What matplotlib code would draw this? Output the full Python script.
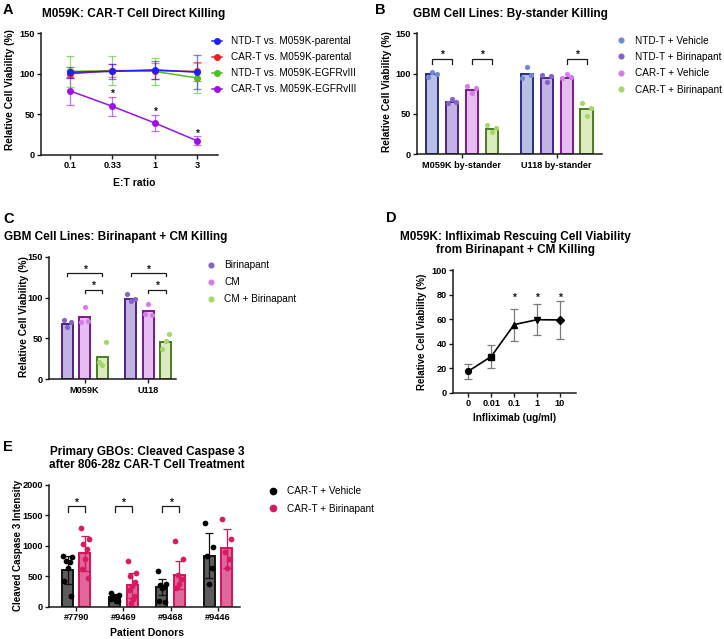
import numpy as np
import matplotlib
matplotlib.use('Agg')
import matplotlib.pyplot as plt
from matplotlib.lines import Line2D
from matplotlib.colors import to_rgba

# ---------------- data ----------------
# Panel A
a_title = 'M059K: CAR-T Cell Direct Killing'
a_ratios = ['0.1', '0.33', '1', '3']
a_labels = ['NTD-T vs. M059K-parental', 'CAR-T vs. M059K-parental',
            'NTD-T vs. M059K-EGFRvIII', 'CAR-T vs. M059K-EGFRvIII']
a_ntd_parental = [102, 103, 105, 102]
a_ntd_parental_err = [7, 9, 11, 21]
a_car_parental = [100, 104, 104, 103]
a_car_parental_err = [5, 8, 10, 12]
a_ntd_egfr = [103, 104, 103, 95]
a_ntd_egfr_err = [19, 18, 17, 19]
a_car_egfr = [79, 60, 39.5, 17.5]
a_car_egfr_err = [17, 12, 10, 5.5]
a_sig = [False, True, True, True]

# Panel B
b_title = 'GBM Cell Lines: By-stander Killing'
b_groups = ['M059K by-stander', 'U118 by-stander']
b_conditions = ['NTD-T + Vehicle', 'NTD-T + Birinapant', 'CAR-T + Vehicle', 'CAR-T + Birinapant']
b_means = [[99, 65, 80, 31], [99, 94, 95, 56]]
b_points = [
    [[96, 102, 100], [63, 68, 65], [85, 76, 82], [36, 28, 32]],
    [[94, 108, 98], [98, 90, 97], [95, 99.5, 96], [64, 47, 58]],
]
b_sig_pairs = [(0, 0, 1), (0, 2, 3), (1, 2, 3)]

# Panel C
c_title = 'GBM Cell Lines: Birinapant + CM Killing'
c_groups = ['M059K', 'U118']
c_conditions = ['Birinapant', 'CM', 'CM + Birinapant']
c_means = [[68, 76, 27.5], [98, 83, 46]]
c_points = [
    [[72.6, 64.4, 69.8], [70, 88.9, 71.4], [20.8, 17.5, 45.3]],
    [[104, 96.2, 98.3], [79.6, 91.8, 78.7], [36.7, 46.9, 55.4]],
]

# Panel D
d_title = 'M059K: Infliximab Rescuing Cell Viability\nfrom Birinapant + CM Killing'
d_doses = ['0', '0.01', '0.1', '1', '10']
d_vals = [17.5, 29.5, 55.5, 59.5, 59.3]
d_err = [6, 9, 13, 12.5, 15.5]
d_sig = [False, False, True, True, True]

# Panel E
e_title = 'Primary GBOs: Cleaved Caspase 3\nafter 806-28z CAR-T Cell Treatment'
e_donors = ['#7790', '#9469', '#9468', '#9446']
e_conditions = ['CAR-T + Vehicle', 'CAR-T + Birinapant']
e_veh_mean = [600, 160, 330, 840]
e_veh_sd = [230, 50, 130, 370]
e_bir_mean = [880, 350, 520, 960]
e_bir_sd = [290, 210, 230, 320]
e_veh_points = [[830, 810, 750, 740, 640, 420, 180],
                [230, 200, 180, 160, 140, 120, 100, 90],
                [580, 380, 350, 330, 310, 100, 70],
                [1380, 980, 830, 640, 370]]
e_bir_points = [[1300, 1110, 1030, 950, 790, 620, 470],
                [750, 550, 500, 400, 340, 280, 170, 120, 60],
                [1080, 780, 520, 450, 380, 300],
                [1440, 1110, 900, 780, 630]]
e_sig = [True, True, True, False]

# ---------------- figure ----------------
W, H, DPI = 724, 639, 100
plt.rcParams['font.family'] = ['Liberation Sans', 'DejaVu Sans']
fig = plt.figure(figsize=(W / DPI, H / DPI), dpi=DPI)
fig.patch.set_facecolor('white')

INK = '#1a1a1a'
TICK_FS = 6.6
LAB_FS = 7.3
LEG_FS = 7.2
TITLE_FS = 8.5
PANEL_FS = 10.5


def add_ax(l, t, r, b):
    return fig.add_axes([l / W, 1 - b / H, (r - l) / W, (b - t) / H])


def ftext(x, y, s, **kw):
    return fig.text(x / W, 1 - y / H, s, **kw)


def style_axes(ax, xlim, ylim, yticks, xticks, xticklabels):
    ax.set_xlim(*xlim)
    ax.set_ylim(*ylim)
    for s in ['top', 'right']:
        ax.spines[s].set_visible(False)
    for s in ['left', 'bottom']:
        ax.spines[s].set_linewidth(1.1)
        ax.spines[s].set_color(INK)
    ax.set_yticks(yticks)
    ax.set_yticklabels([str(v) for v in yticks], fontsize=TICK_FS, fontweight='bold')
    ax.set_xticks(xticks)
    ax.set_xticklabels(xticklabels, fontsize=TICK_FS, fontweight='bold')
    ax.tick_params(direction='out', length=3, width=1.0, color=INK, pad=1.5)
    ax.patch.set_alpha(0)


def star(ax, x, y, fs=7.5):
    ax.annotate('*', (x, y), xytext=(0, -0.62 * fs), textcoords='offset points',
                ha='center', va='baseline', fontsize=fs, fontweight='bold',
                color=INK, annotation_clip=False)


def bracket(ax, x1, x2, y, drop, star_y):
    ax.plot([x1, x1, x2, x2], [y - drop, y, y, y - drop], color=INK, lw=0.9,
            clip_on=False, solid_joinstyle='miter')
    star(ax, (x1 + x2) / 2, star_y)


def legend(ax, handles, labels, x, y, hl, htp, ls):
    ax.legend(handles, labels, loc='upper left', bbox_to_anchor=(x / W, 1 - y / H),
              bbox_transform=fig.transFigure, frameon=False, fontsize=LEG_FS,
              handlelength=hl, handletextpad=htp, labelspacing=ls,
              borderpad=0, borderaxespad=0)


def ylabel(x, y, s, fs=LAB_FS):
    ftext(x, y, s, rotation=90, ha='center', va='center', fontsize=fs, fontweight='bold')


# ---------------- Panel A ----------------
axA = add_ax(41, 33.3, 218.3, 155)
xa = np.arange(len(a_ratios))
a_series = [a_ntd_parental, a_car_parental, a_ntd_egfr, a_car_egfr]
a_errs = [a_ntd_parental_err, a_car_parental_err, a_ntd_egfr_err, a_car_egfr_err]
a_colors = ['#1f1fff', '#e8221f', '#4fbf1f', '#9a12e6']
for vals, errs, col in reversed(list(zip(a_series, a_errs, a_colors))):
    axA.errorbar(xa, vals, yerr=errs, fmt='none', ecolor=to_rgba(col, 0.6),
                 elinewidth=0.9, capsize=2.6, capthick=0.9, zorder=2, clip_on=False)
for vals, col in reversed(list(zip(a_series, a_colors))):
    axA.plot(xa, vals, color=col, lw=1.1, marker='o', ms=4, zorder=3, clip_on=False)
for i, s in enumerate(a_sig):
    if s:
        star(axA, xa[i], a_car_egfr[i] + a_car_egfr_err[i] + 7.5)
style_axes(axA, (-0.684, 3.5), (0, 150), [0, 50, 100, 150], xa, a_ratios)
hA = [Line2D([], [], color=c, marker='o', ms=4, lw=1.1) for c in a_colors]
legend(axA, hA, a_labels, 211.5, 36, 1.0, 0.95, 0.6)
ftext(3, 14, 'A', fontsize=PANEL_FS, fontweight='bold', va='baseline')
ftext(134, 17.5, a_title, ha='center', va='baseline', fontsize=TITLE_FS, fontweight='bold')
ftext(134, 186, 'E:T ratio', ha='center', va='baseline', fontsize=7.5, fontweight='bold')
ylabel(10, 90, 'Relative Cell Viability (%)')

# ---------------- Panel B ----------------
axB = add_ax(417, 33.3, 601.7, 154.3)
b_fill = ['#b7bfe6', '#c3b3e3', '#e6bdf1', '#dcebbd']
b_edge = ['#2a2f7d', '#4a2387', '#7d168f', '#4c7a26']
b_dot = ['#7489d4', '#8463c9', '#d57de6', '#a6d66a']
gB = np.arange(len(b_groups))
B_OFF = [-0.315, -0.105, 0.105, 0.315]
B_W = 0.13
for j in range(len(b_conditions)):
    xs = gB + B_OFF[j]
    axB.bar(xs, [b_means[g][j] for g in gB], width=B_W, color=b_fill[j],
            edgecolor=b_edge[j], linewidth=1.4, zorder=2)
    for g in gB:
        offs = np.array([-0.36, 0.0, 0.36]) * B_W
        axB.scatter(xs[g] + offs, b_points[g][j], s=14, color=b_dot[j], zorder=3,
                    linewidths=0, clip_on=False)
for g, c1, c2 in b_sig_pairs:
    bracket(axB, g + B_OFF[c1], g + B_OFF[c2], 118, 6, 127)
style_axes(axB, (-0.474, 1.474), (0, 150), [0, 50, 100, 150], gB, b_groups)
hB = [Line2D([], [], ls='none', marker='o', ms=3.4, color=c) for c in b_dot]
legend(axB, hB, b_conditions, 616.5, 35.5, 0.9, 0.95, 0.64)
ftext(375, 14, 'B', fontsize=PANEL_FS, fontweight='bold', va='baseline')
ftext(510, 16.7, b_title, ha='center', va='baseline', fontsize=TITLE_FS, fontweight='bold')
ylabel(387, 92, 'Relative Cell Viability (%)')

# ---------------- Panel C ----------------
axC = add_ax(49.3, 256.7, 175.7, 379.3)
gC = np.arange(len(c_groups))
C_OFF = [-0.274, 0.0, 0.274]
C_W = 0.172
for j in range(len(c_conditions)):
    xs = gC + C_OFF[j]
    axC.bar(xs, [c_means[g][j] for g in gC], width=C_W, color=b_fill[j + 1],
            edgecolor=b_edge[j + 1], linewidth=1.4, zorder=2)
    for g in gC:
        offs = np.array([-0.33, 0.0, 0.33]) * C_W
        axC.scatter(xs[g] + offs, c_points[g][j], s=14, color=b_dot[j + 1], zorder=3,
                    linewidths=0, clip_on=False)
for g in gC:
    bracket(axC, g + C_OFF[0], g + C_OFF[2], 130.5, 4, 138)
    bracket(axC, g + C_OFF[1], g + C_OFF[2], 109.5, 3.5, 118)
style_axes(axC, (-0.556, 1.43), (0, 150), [0, 50, 100, 150], gC, c_groups)
hC = [Line2D([], [], ls='none', marker='o', ms=3.4, color=c) for c in b_dot[1:]]
legend(axC, hC, c_conditions, 206, 260, 0.9, 0.95, 0.7)
ftext(3, 223, 'C', fontsize=PANEL_FS, fontweight='bold', va='baseline')
ftext(116, 240, c_title, ha='center', va='baseline', fontsize=TITLE_FS, fontweight='bold')
ylabel(24, 317, 'Relative Cell Viability (%)')

# ---------------- Panel D ----------------
axD = add_ax(453.3, 270, 576, 392.7)
xd = np.arange(len(d_doses))
d_markers = ['o', 's', '^', 'v', 'D']
axD.errorbar(xd, d_vals, yerr=d_err, fmt='none', ecolor='#7a7a7a', elinewidth=0.9,
             capsize=2.8, capthick=0.9, zorder=2)
axD.plot(xd, d_vals, color='k', lw=1.2, zorder=3)
for i in range(len(xd)):
    axD.plot(xd[i], d_vals[i], marker=d_markers[i], color='k', ms=4.2, zorder=4)
for i, s in enumerate(d_sig):
    if s:
        star(axD, xd[i], 80)
style_axes(axD, (-0.655, 4.7), (0, 100), [0, 20, 40, 60, 80, 100], xd, d_doses)
ftext(386, 222, 'D', fontsize=PANEL_FS, fontweight='bold', va='baseline')
ftext(515, 253.3, d_title, ha='center', va='baseline', multialignment='center',
      fontsize=TITLE_FS, fontweight='bold', linespacing=1.12)
ftext(514.5, 421, 'Infliximab (ug/ml)', ha='center', va='baseline', fontsize=7.2, fontweight='bold')
ylabel(422, 332, 'Relative Cell Viability (%)', fs=7.0)

# ---------------- Panel E ----------------
axE = add_ax(49, 485, 240, 606.7)
gE = np.arange(len(e_donors))
E_OFF = [-0.184, 0.184]
E_W = 0.233
e_fill = ['#5c5c5c', '#e0679c']
e_edge = ['#111111', '#d3145a']
e_dot = ['#000000', '#d81b60']
jit = np.array([-0.38, 0.38, -0.15, 0.22, 0.0, -0.3, 0.3, 0.1, -0.1])
for j, (means, sds, pts) in enumerate([(e_veh_mean, e_veh_sd, e_veh_points),
                                        (e_bir_mean, e_bir_sd, e_bir_points)]):
    xs = gE + E_OFF[j]
    axE.bar(xs, means, width=E_W, color=e_fill[j], edgecolor=e_edge[j], linewidth=1.4, zorder=2)
    axE.errorbar(xs, means, yerr=sds, fmt='none', ecolor=e_edge[j], elinewidth=0.9,
                 capsize=2.6, capthick=0.9, zorder=3)
    for g in gE:
        n = len(pts[g])
        axE.scatter(xs[g] + jit[:n] * E_W, pts[g], s=17, color=e_dot[j], zorder=4,
                    linewidths=0, clip_on=False)
for g, s in zip(gE, e_sig):
    if s:
        bracket(axE, g + E_OFF[0], g + E_OFF[1], 1650, 95, 1770)
style_axes(axE, (-0.578, 3.47), (0, 2000), [0, 500, 1000, 1500, 2000], gE, e_donors)
hE = [Line2D([], [], ls='none', marker='o', ms=4.5, color=c) for c in e_dot]
legend(axE, hE, e_conditions, 268.5, 486.5, 0.9, 0.95, 0.73)
ftext(3, 451, 'E', fontsize=PANEL_FS, fontweight='bold', va='baseline')
ftext(147, 468, e_title, ha='center', va='baseline', multialignment='center',
      fontsize=TITLE_FS, fontweight='bold', linespacing=1.12)
ftext(147, 636, 'Patient Donors', ha='center', va='baseline', fontsize=7.5, fontweight='bold')
ylabel(18, 545, 'Cleaved Caspase 3 Intensity', fs=7.0)

fig.savefig('out.png', dpi=DPI, facecolor='white')
